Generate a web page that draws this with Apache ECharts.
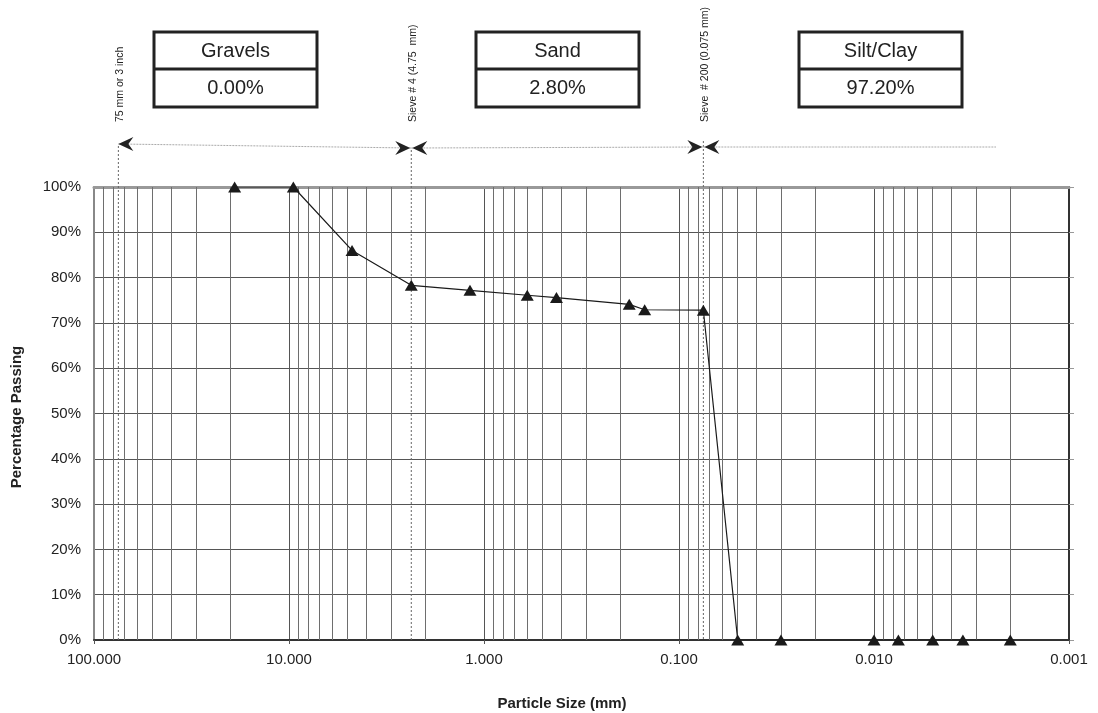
<!DOCTYPE html>
<html>
<head>
<meta charset="utf-8">
<script src="https://cdn.jsdelivr.net/npm/echarts@6/dist/echarts.min.js"></script>
<style>
html,body{margin:0;padding:0;background:#fff;}
#chart{width:1098px;height:713px;}
</style>
</head>
<body>
<div id="chart"></div>
<script>
// ---- data ----
const particleSizes = [19, 9.5, 4.75, 2.36, 1.18, 0.6, 0.425, 0.18, 0.15, 0.075, 0.05, 0.03, 0.01, 0.0075, 0.005, 0.0035, 0.002];
const percentPassing = [100, 100, 86.0, 78.3, 77.2, 76.1, 75.6, 74.1, 72.9, 72.8, 0, 0, 0, 0, 0, 0, 0];
const minorGridValues = [
  0.002,0.003,0.004,0.005,0.006,0.007,0.008,0.009,
  0.02,0.03,0.04,0.05,0.06,0.07,0.08,0.09,
  0.2,0.3,0.4,0.5,0.6,0.7,0.8,0.9,
  2,3,4,5,6,7,8,9,
  20,30,40,50,60,70,80,90
];
const boundaryValues = [75, 2.36, 0.075];
const boundaryLabels = ['75 mm or 3 inch', 'Sieve # 4 (4.75  mm)', 'Sieve  # 200 (0.075 mm)'];
const fractionNames = ['Gravels', 'Sand', 'Silt/Clay'];
const fractionValues = ['0.00%', '2.80%', '97.20%'];
const xAxisTitle = 'Particle Size (mm)';
const yAxisTitle = 'Percentage Passing';

const FONT = '"Liberation Sans", Arial, Helvetica, sans-serif';
const chart = echarts.init(document.getElementById('chart'), null, {renderer: 'canvas'});

chart.setOption({
  backgroundColor: '#fff',
  animation: false,
  grid: {left: 94, right: 29, top: 187, bottom: 73, containLabel: false},
  xAxis: [{
    type: 'log', logBase: 10, inverse: true, min: 0.001, max: 100, splitNumber: 5,
    axisLine: {show: true, lineStyle: {color: '#333', width: 2}},
    axisTick: {show: true, length: 4, lineStyle: {color: '#555'}},
    axisLabel: {fontSize: 15, color: '#222', fontFamily: FONT, margin: 12,
      formatter: v => Number(v).toFixed(3)},
    splitLine: {show: true, lineStyle: {color: '#555', width: 1}},
    minorTick: {show: false}, minorSplitLine: {show: false}
  }, {
    type: 'value', position: 'top', min: 0, max: 1,
    axisLine: {show: true, onZero: false, lineStyle: {color: '#999', width: 3}},
    axisTick: {show: false}, axisLabel: {show: false}, splitLine: {show: false}
  }],
  yAxis: [{
    type: 'value', min: 0, max: 100, interval: 10,
    axisLine: {show: true, lineStyle: {color: '#888', width: 2}},
    axisTick: {show: false},
    axisLabel: {fontSize: 15, color: '#222', fontFamily: FONT, margin: 13, formatter: '{value}%'},
    splitLine: {show: true, lineStyle: {color: '#555', width: 1}}
  }, {
    type: 'value', min: 0, max: 100, interval: 10, position: 'right',
    axisLine: {show: true, onZero: false, lineStyle: {color: '#333', width: 2}},
    axisTick: {show: true, length: 5, lineStyle: {color: '#999'}},
    axisLabel: {show: false}, splitLine: {show: false}
  }],
  series: [{
    type: 'line', name: 'minor', data: [], z: 1, silent: true,
    markLine: {
      silent: true, symbol: 'none', animation: false, precision: 6,
      label: {show: false},
      lineStyle: {color: '#6e6e6e', type: 'solid', width: 1},
      emphasis: {disabled: true},
      data: minorGridValues.map(v => ({xAxis: v}))
    }
  }, {
    type: 'line', name: 'passing', z: 5,
    data: particleSizes.map((s, i) => [s, percentPassing[i]]),
    symbol: 'triangle', symbolSize: [13, 11],
    itemStyle: {color: '#1a1a1a'},
    lineStyle: {color: '#1a1a1a', width: 1.2}
  }]
});

// ---- annotations computed from the axis scale ----
const bx = boundaryValues.map(v => chart.convertToPixel({xAxisIndex: 0}, v));
const yBottom = chart.convertToPixel({yAxisIndex: 0}, 0);
const g = [];
const dashH = {stroke: '#aaa', lineWidth: 1, lineDash: [2, 1]};
const dashV = {stroke: '#666', lineWidth: 1, lineDash: [2, 2]};
function arrowHead(tx, ty, dir) { // dir -1 = pointing left, 1 = pointing right
  const L = 15, H = 7, N = 10;
  return {type: 'polygon', z: 10, shape: {points: [
    [tx, ty], [tx - dir * L, ty - H], [tx - dir * N, ty], [tx - dir * L, ty + H]
  ]}, style: {fill: '#222'}};
}
// vertical boundary lines
const vTops = [146, 150, 141];
bx.forEach((x, i) => {
  g.push({type: 'line', z: 4, shape: {x1: x, y1: vTops[i], x2: x, y2: yBottom}, style: dashV});
  g.push({type: 'text', z: 10, x: x + 2, y: 122, rotation: Math.PI / 2,
    style: {text: boundaryLabels[i], fontSize: 10.5, fontFamily: FONT, fill: '#222',
      align: 'left', verticalAlign: 'middle'}});
});
// horizontal arrows
g.push({type: 'line', z: 4, shape: {x1: bx[0], y1: 144, x2: bx[1], y2: 148}, style: dashH});
g.push(arrowHead(bx[0], 144, -1));
g.push(arrowHead(bx[1] - 1, 148, 1));
g.push({type: 'line', z: 4, shape: {x1: bx[1], y1: 148, x2: bx[2], y2: 147}, style: dashH});
g.push(arrowHead(bx[1] + 1, 148, -1));
g.push(arrowHead(bx[2] - 1, 147, 1));
g.push({type: 'line', z: 4, shape: {x1: bx[2], y1: 147, x2: 996, y2: 147}, style: dashH});
g.push(arrowHead(bx[2] + 1, 147, -1));
// fraction boxes
const boxLefts = [154, 476, 799];
boxLefts.forEach((x0, i) => {
  const w = 163, y0 = 32, h = 75, ym = 69;
  g.push({type: 'rect', z: 10, shape: {x: x0, y: y0, width: w, height: h},
    style: {fill: '#fff', stroke: '#222', lineWidth: 3}});
  g.push({type: 'line', z: 11, shape: {x1: x0, y1: ym, x2: x0 + w, y2: ym},
    style: {stroke: '#222', lineWidth: 3}});
  g.push({type: 'text', z: 12, x: x0 + w / 2, y: 51,
    style: {text: fractionNames[i], fontSize: 20, fontFamily: FONT, fill: '#222', align: 'center', verticalAlign: 'middle'}});
  g.push({type: 'text', z: 12, x: x0 + w / 2, y: 88,
    style: {text: fractionValues[i], fontSize: 20, fontFamily: FONT, fill: '#222', align: 'center', verticalAlign: 'middle'}});
});
// axis titles
g.push({type: 'text', z: 10, x: 562, y: 704,
  style: {text: xAxisTitle, fontSize: 15, fontWeight: 'bold', fontFamily: FONT, fill: '#222', align: 'center', verticalAlign: 'middle'}});
g.push({type: 'text', z: 10, x: 17, y: 417, rotation: Math.PI / 2,
  style: {text: yAxisTitle, fontSize: 15, fontWeight: 'bold', fontFamily: FONT, fill: '#222', align: 'center', verticalAlign: 'middle'}});

chart.setOption({graphic: g});
</script>
</body>
</html>
